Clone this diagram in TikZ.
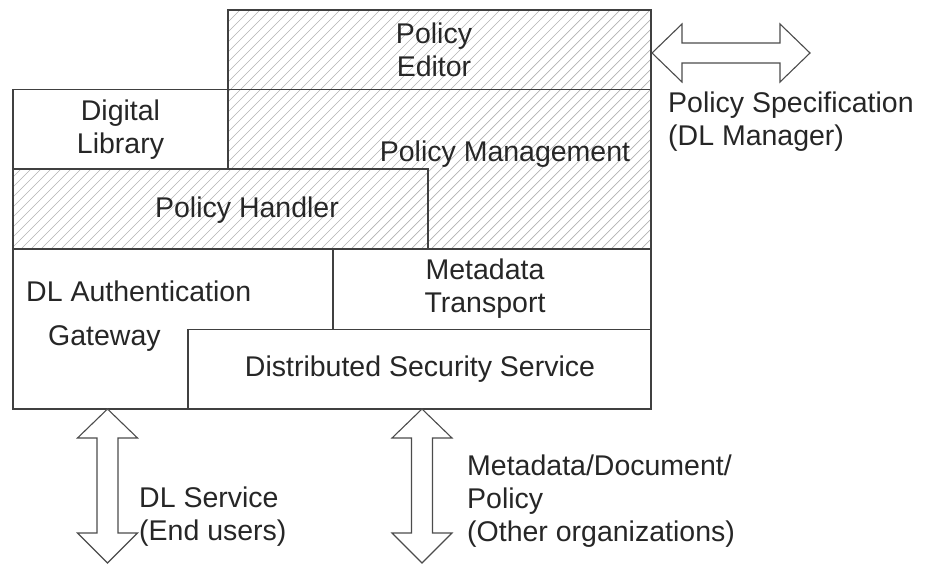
\documentclass[tikz,border=0pt]{standalone}
\usepackage{fontspec}
\setmainfont{Liberation Sans}
\begin{document}
\begin{tikzpicture}[x=1pt,y=-1pt,
  frame/.style={draw=black!75,line width=1.4pt},
  hatch/.style={draw=black!30,line width=0.7pt},
  fatarrow/.style={draw=black!70,line width=1.1pt,fill=white,line join=miter},
  lbl/.style={inner sep=0pt,font=\fontsize{28.5}{33}\selectfont,text=black!85},
]
\useasboundingbox (0,0) rectangle (934,564);

% hatched area: policy editor, policy management and policy handler
\begin{scope}
  \clip (228,10) -- (651,10) -- (651,249) -- (13,249) -- (13,169) -- (228,169) -- cycle;
  \foreach \k in {0,10,...,1000}
    \draw[hatch] (\k,0) -- (\k-300,300);
\end{scope}

% layer outlines
\draw[frame] (228,169) -- (228,10) -- (651,10) -- (651,409) -- (13,409) -- (13,89.5);
\draw[frame] (13,89.5) -- (651,89.5);
\draw[frame] (13,169) -- (428,169) -- (428,249);
\draw[frame] (13,249) -- (651,249);
\draw[frame] (333,249) -- (333,329.5);
\draw[frame] (188,409) -- (188,329.5) -- (651,329.5);

% labels of the layers
\node[lbl,align=center] (editor) at (434,49.5) {Policy\\Editor};
\node[lbl,align=center] (library) at (120.5,130) {Digital\\Library};
\node[lbl] (mgmt) at (505,154) {Policy Management};
\node[lbl] (handler) at (247,210) {Policy Handler};
\node[lbl,anchor=west] (auth) at (26,291) {DL Authentication};
\node[lbl,anchor=west] (gateway) at (48,339) {Gateway};
\node[lbl,align=center] (transport) at (485,289) {Metadata\\Transport};
\node[lbl] (dss) at (420,369) {Distributed Security Service};

% interfaces to the outside
\draw[fatarrow] (652,53) -- (682,24) -- (682,43) -- (780,43) -- (780,24) -- (810,53)
  -- (780,82) -- (780,63) -- (682,63) -- (682,82) -- cycle;
\node[lbl,anchor=west,align=left] (spec) at (668,121.5) {Policy Specification\\(DL Manager)};

\begin{scope}
\clip (0,0) rectangle (934,564);
\draw[fatarrow] (107.5,409) -- (137.5,438) -- (118,438) -- (118,533) -- (137.5,533) -- (107.5,563)
  -- (77.5,533) -- (97,533) -- (97,438) -- (77.5,438) -- cycle;
\draw[fatarrow] (422,409) -- (452,438) -- (432.5,438) -- (432.5,533) -- (452,533) -- (422,563)
  -- (392,533) -- (411.5,533) -- (411.5,438) -- (392,438) -- cycle;
\end{scope}
\node[lbl,anchor=west,align=left] (service) at (139,517) {DL Service\\(End users)};
\node[lbl,anchor=west,align=left] (orgs) at (467,501) {Metadata/Document/\\Policy\\(Other organizations)};
\end{tikzpicture}
\end{document}
